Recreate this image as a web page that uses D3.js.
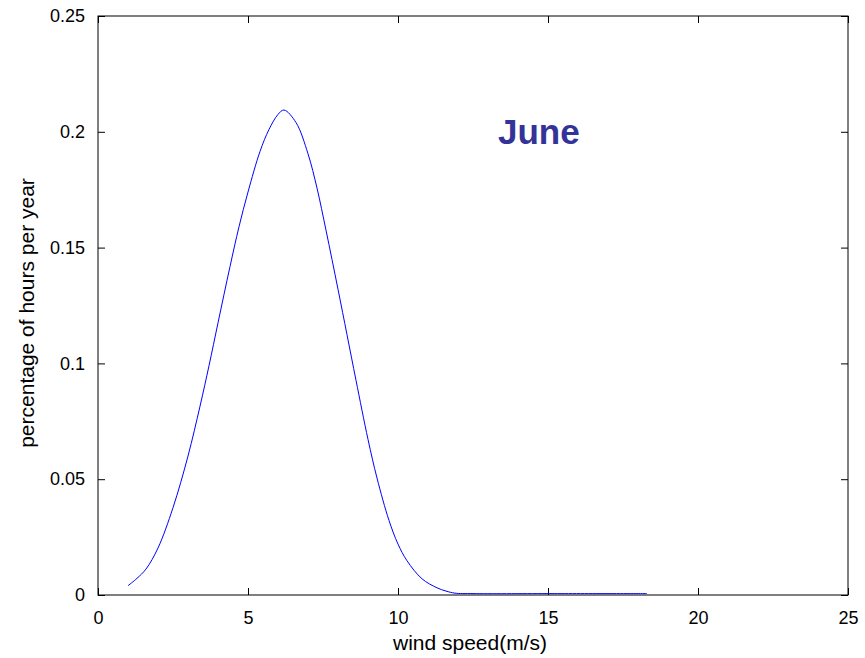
<!DOCTYPE html>
<html>
<head>
<meta charset="utf-8">
<script src="https://cdn.jsdelivr.net/npm/d3@7"></script>
<style>
  body { margin: 0; background: #fff; }
  text { font-family: "Liberation Sans", Arial, sans-serif; }
</style>
</head>
<body>
<div id="chart"></div>
<script>
// valeurs (vitesse du vent en m/s, fraction d'heures)
const windSpeed = [1.0, 1.3, 1.6, 2.0, 2.5, 3.0, 3.4, 3.7, 4.0, 4.4, 4.7, 5.0, 5.4, 5.7, 6.0, 6.2,
  6.6, 7.0, 7.3, 7.6, 8.0, 8.3, 8.6, 9.0, 9.3, 9.7, 10.0, 10.3, 10.8, 11.3, 11.6, 11.9, 12.5, 15.0, 18.3];
const hoursShare = [0.0040, 0.0072, 0.0112, 0.0203, 0.0377, 0.0600, 0.0815, 0.0990, 0.1175, 0.1418,
  0.1590, 0.1740, 0.1915, 0.2010, 0.2075, 0.2094, 0.2040, 0.1905, 0.1757, 0.1575, 0.1320, 0.1124,
  0.0927, 0.0672, 0.0505, 0.0322, 0.0220, 0.0148, 0.0070, 0.0031, 0.0017, 0.0008, 0.0006, 0.0006, 0.0006];
const xTicks = [0, 5, 10, 15, 20, 25];
const yTicks = [0, 0.05, 0.1, 0.15, 0.2, 0.25];
const yTickLabels = ["0", "0.05", "0.1", "0.15", "0.2", "0.25"];

const width = 865, height = 658;
const margin = { top: 16, right: 17, bottom: 63, left: 98 };
const plotW = width - margin.left - margin.right;
const plotH = height - margin.top - margin.bottom;
const tickLen = 7;

const svg = d3.select("#chart").append("svg")
  .attr("width", width)
  .attr("height", height);

const x = d3.scaleLinear().domain([0, 25]).range([margin.left, margin.left + plotW]);
const y = d3.scaleLinear().domain([0, 0.25]).range([margin.top + plotH, margin.top]);

// cadre
svg.append("rect")
  .attr("x", margin.left)
  .attr("y", margin.top)
  .attr("width", plotW)
  .attr("height", plotH)
  .attr("fill", "none")
  .attr("stroke", "#000")
  .attr("stroke-width", 1);

// axes (graduations vers l'intérieur, sur les quatre côtés)
svg.append("g")
  .attr("transform", `translate(0,${margin.top + plotH})`)
  .call(d3.axisBottom(x).tickValues(xTicks).tickSize(-tickLen).tickPadding(16).tickFormat(d3.format("d")))
  .call(g => g.select(".domain").remove());
svg.append("g")
  .attr("transform", `translate(0,${margin.top})`)
  .call(d3.axisTop(x).tickValues(xTicks).tickSize(-tickLen).tickFormat(""))
  .call(g => g.select(".domain").remove());
svg.append("g")
  .attr("transform", `translate(${margin.left},0)`)
  .call(d3.axisLeft(y).tickValues(yTicks).tickSize(-tickLen).tickPadding(13).tickFormat((d, i) => yTickLabels[i]))
  .call(g => g.select(".domain").remove());
svg.append("g")
  .attr("transform", `translate(${margin.left + plotW},0)`)
  .call(d3.axisRight(y).tickValues(yTicks).tickSize(-tickLen).tickFormat(""))
  .call(g => g.select(".domain").remove());

svg.selectAll(".tick line").attr("stroke", "#000");
svg.selectAll(".tick text")
  .attr("font-size", "18px")
  .attr("fill", "#000");

// courbe
const pts = windSpeed.map((v, i) => [v, hoursShare[i]]);
svg.append("path")
  .datum(pts)
  .attr("fill", "none")
  .attr("stroke", "#0000ff")
  .attr("stroke-width", 1)
  .attr("d", d3.line().x(d => x(d[0])).y(d => y(d[1])).curve(d3.curveCatmullRom));

// titres
svg.append("text")
  .attr("x", 470)
  .attr("y", 650)
  .attr("text-anchor", "middle")
  .attr("font-size", "21px")
  .text("wind speed(m/s)");

svg.append("text")
  .attr("transform", `translate(34,313) rotate(-90)`)
  .attr("text-anchor", "middle")
  .attr("font-size", "21px")
  .text("percentage of hours per year");

svg.append("text")
  .attr("x", 498)
  .attr("y", 144)
  .attr("font-size", "35px")
  .attr("font-weight", "bold")
  .attr("fill", "#333399")
  .text("June");
</script>
</body>
</html>
